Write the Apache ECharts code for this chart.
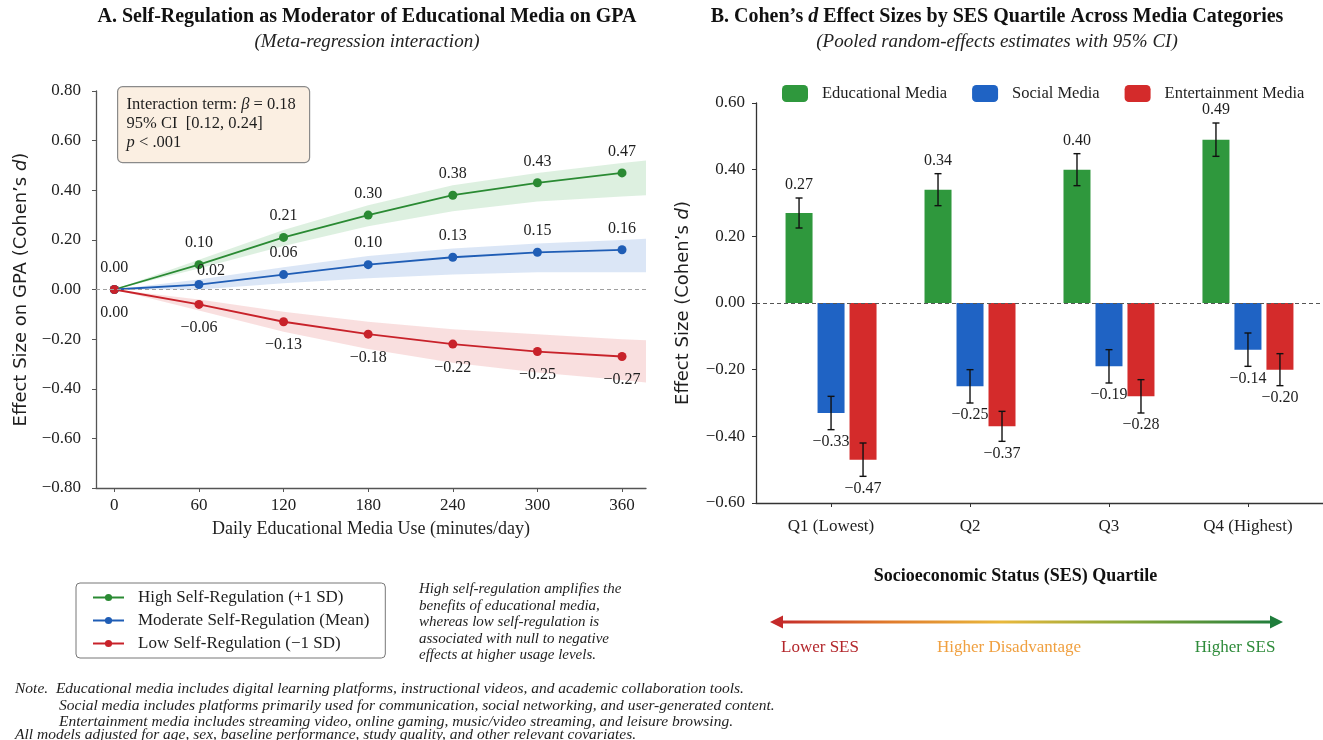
<!DOCTYPE html>
<html>
<head>
<meta charset="utf-8">
<script src="https://cdn.jsdelivr.net/npm/echarts@6/dist/echarts.min.js"></script>
<style>
  html, body { margin: 0; padding: 0; background: #fff; }
  #chart { width: 1323px; height: 740px; }
</style>
</head>
<body>
<div id="chart"></div>
<script>
// ---------- Panel A: self-regulation x educational media use ----------
const minutes = [0, 60, 120, 180, 240, 300, 360];
const minuteTicks = [0, 60, 120, 180, 240, 300, 360];
const highSR = [0.00, 0.10, 0.21, 0.30, 0.38, 0.43, 0.47];
const meanSR = [0.00, 0.02, 0.06, 0.10, 0.13, 0.15, 0.16];
const lowSR  = [0.00, -0.06, -0.13, -0.18, -0.22, -0.25, -0.27];

// confidence bands (lower / upper), evaluated out to the axis edge
const bandMinutes = [0, 60, 120, 180, 240, 300, 360, 377];
const highLo = [0.00, 0.085, 0.175, 0.255, 0.315, 0.355, 0.375, 0.38];
const highHi = [0.00, 0.120, 0.240, 0.340, 0.420, 0.470, 0.510, 0.52];
const meanLo = [0.00, 0.000, 0.025, 0.045, 0.060, 0.070, 0.070, 0.07];
const meanHi = [0.00, 0.040, 0.090, 0.135, 0.165, 0.185, 0.200, 0.205];
const lowLo  = [0.00, -0.085, -0.170, -0.240, -0.295, -0.335, -0.365, -0.375];
const lowHi  = [0.00, -0.040, -0.090, -0.130, -0.160, -0.180, -0.200, -0.205];

// ---------- Panel B: Cohen's d by SES quartile ----------
const quartiles = ['Q1 (Lowest)', 'Q2', 'Q3', 'Q4 (Highest)'];
const quartilePos = [0, 1, 2, 3];
const eduD = [0.27, 0.34, 0.40, 0.49];
const socD = [-0.33, -0.25, -0.19, -0.14];
const entD = [-0.47, -0.37, -0.28, -0.20];
const eduCI = [0.045, 0.048, 0.048, 0.050];
const socCI = [0.050, 0.050, 0.050, 0.050];
const entCI = [0.050, 0.045, 0.050, 0.048];

const SERIF = "'Liberation Serif', 'DejaVu Serif', serif";
const SANS = "'DejaVu Sans', 'Noto Sans', sans-serif";
const GREEN = '#2f983d', BLUE = '#1f63c4', RED = '#d42b2b';
const LINE_GREEN = '#2a8a33', LINE_BLUE = '#1f5db5', LINE_RED = '#c8222a';
const INK = '#1e1e1e';

const fmt = v => (v < 0 ? '\u2212' : '') + Math.abs(v).toFixed(2);

const chart = echarts.init(document.getElementById('chart'), null, { renderer: 'canvas' });

function bandSeries(lo, hi, fill) {
  return {
    type: 'custom', xAxisIndex: 0, yAxisIndex: 0, silent: true, z: 1,
    data: bandMinutes.map((m, i) => [m, lo[i], hi[i]]),
    encode: { x: 0, y: [1, 2] },
    renderItem: (params, api) => {
      if (params.dataIndex !== 0) return null;
      const pts = [];
      for (let i = 0; i < bandMinutes.length; i++) pts.push(api.coord([bandMinutes[i], hi[i]]));
      for (let i = bandMinutes.length - 1; i >= 0; i--) pts.push(api.coord([bandMinutes[i], lo[i]]));
      return { type: 'polygon', shape: { points: pts }, style: { fill: fill } };
    }
  };
}

function lineSeries(name, values, color, pos, dist, extra) {
  return {
    name: name, type: 'line', xAxisIndex: 0, yAxisIndex: 0, z: 3,
    data: values.map((v, i) => {
      const item = { value: [minutes[i], v] };
      if (extra && extra[i]) item.label = extra[i];
      return item;
    }),
    symbol: 'circle', symbolSize: 9,
    itemStyle: { color: color },
    lineStyle: { color: color, width: 1.8 },
    label: {
      show: true, position: pos, distance: dist,
      formatter: p => fmt(p.value[1]),
      fontFamily: SERIF, fontSize: 16, color: INK
    },
    emphasis: { disabled: true }
  };
}

// bars sit on a numeric quartile axis; width and spacing in pixels
const BAR_W = 27, BAR_GAP = 0.185;
function errorSeries(values, cis, k) {
  return {
    type: 'custom', xAxisIndex: 1, yAxisIndex: 1, z: 5, silent: true,
    data: values.map((v, i) => [quartilePos[i], v, cis[i]]),
    encode: { x: 0, y: 1 },
    renderItem: (params, api) => {
      const q = api.value(0), v = api.value(1), ci = api.value(2);
      const off = k * BAR_W * (1 + BAR_GAP);
      const t = api.coord([q, v + ci]);
      const b = api.coord([q, v - ci]);
      const x = t[0] + off;
      const cap = 3.5;
      const ls = { stroke: '#111', lineWidth: 1.4 };
      const label = v >= 0
        ? { x: x, y: t[1] - 5, verticalAlign: 'bottom' }
        : { x: x, y: b[1] + 4, verticalAlign: 'top' };
      return {
        type: 'group',
        children: [
          { type: 'line', shape: { x1: x, y1: t[1], x2: x, y2: b[1] }, style: ls },
          { type: 'line', shape: { x1: x - cap, y1: t[1], x2: x + cap, y2: t[1] }, style: ls },
          { type: 'line', shape: { x1: x - cap, y1: b[1], x2: x + cap, y2: b[1] }, style: ls },
          { type: 'text', style: Object.assign({
              text: fmt(v), align: 'center', fill: INK,
              font: '16px ' + SERIF }, label) }
        ]
      };
    }
  };
}

function barSeries(name, values, color) {
  return {
    name: name, type: 'bar', xAxisIndex: 1, yAxisIndex: 1, z: 2,
    data: values.map((v, i) => [quartilePos[i], v]),
    barWidth: BAR_W, barGap: (BAR_GAP * 100) + '%',
    itemStyle: { color: color },
    emphasis: { disabled: true }
  };
}

const axisLineA = { onZero: false, lineStyle: { color: '#555', width: 1.3 } };
const axisTickA = { inside: false, length: 4, lineStyle: { color: '#555', width: 1 } };
const axisLineB = { onZero: false, lineStyle: { color: '#333', width: 1.3 } };
const axisTickB = { inside: false, length: 4, lineStyle: { color: '#333', width: 1 } };

const titleStyle = { fontFamily: SERIF, fontSize: 20, fontWeight: 'bold', color: '#111' };
const subStyle = { fontFamily: SERIF, fontSize: 19, fontStyle: 'italic', color: '#222' };

const option = {
  animation: false,
  backgroundColor: '#fff',
  textStyle: { fontFamily: SERIF },
  title: [
    {
      text: 'A. Self-Regulation as Moderator of Educational Media on GPA',
      subtext: '(Meta-regression interaction)',
      left: 362, top: 2, textAlign: 'center', itemGap: 5,
      textStyle: titleStyle, subtextStyle: subStyle
    },
    {
      text: '{b|B. Cohen\u2019s }{bi|d}{b| Effect Sizes by SES Quartile Across Media Categories}',
      subtext: '(Pooled random-effects estimates with 95% CI)',
      left: 992, top: 2, textAlign: 'center', itemGap: 5,
      textStyle: Object.assign({
        rich: {
          b: titleStyle,
          bi: Object.assign({}, titleStyle, { fontStyle: 'italic' })
        }
      }, titleStyle),
      subtextStyle: subStyle
    }
  ],
  legend: [
    {
      data: ['High Self-Regulation (+1 SD)', 'Moderate Self-Regulation (Mean)', 'Low Self-Regulation (\u22121 SD)'],
      orient: 'vertical', left: 76, top: 583,
      itemWidth: 31, itemHeight: 9, itemGap: 6,
      padding: [6, 16, 6, 16],
      borderColor: '#777', borderWidth: 1, borderRadius: 4, backgroundColor: '#fff',
      textStyle: { fontFamily: SERIF, fontSize: 17, color: INK, padding: [0, 0, 0, 9] },
      selectedMode: false
    },
    {
      data: ['Educational Media', 'Social Media', 'Entertainment Media'],
      orient: 'horizontal', left: 777, top: 80,
      itemWidth: 26, itemHeight: 17, itemGap: 25,
      textStyle: { fontFamily: SERIF, fontSize: 16.5, color: INK, padding: [0, 0, 0, 9] },
      selectedMode: false
    }
  ],
  grid: [
    { left: 96, right: 677, top: 91, bottom: 252 },
    { left: 756, right: -5, top: 103, bottom: 237 }
  ],
  xAxis: [
    {
      type: 'value', gridIndex: 0, min: -13, max: 377,
      name: 'Daily Educational Media Use (minutes/day)', nameLocation: 'middle', nameGap: 32,
      nameTextStyle: { fontFamily: SERIF, fontSize: 18, color: INK },
      axisLine: axisLineA,
      axisTick: Object.assign({ customValues: minuteTicks }, axisTickA),
      axisLabel: { customValues: minuteTicks, fontFamily: SERIF, fontSize: 17, color: INK, margin: 9 },
      splitLine: { show: false }
    },
    {
      type: 'value', gridIndex: 1, min: -0.54, max: 3.54,
      name: 'Socioeconomic Status (SES) Quartile', nameLocation: 'middle', nameGap: 64,
      nameTextStyle: { fontFamily: SERIF, fontSize: 18, fontWeight: 'bold', color: '#111', padding: [0, 48, 0, 0] },
      axisLine: axisLineB,
      axisTick: Object.assign({ customValues: quartilePos }, axisTickB),
      axisLabel: {
        customValues: quartilePos, formatter: v => quartiles[Math.round(v)],
        fontFamily: SERIF, fontSize: 17, color: INK, margin: 15
      },
      splitLine: { show: false }
    }
  ],
  yAxis: [
    {
      type: 'value', gridIndex: 0, min: -0.8, max: 0.8, interval: 0.2,
      name: 'Effect Size on GPA (Cohen\u2019s {i|d})', nameLocation: 'middle', nameGap: 66,
      nameTextStyle: {
        fontFamily: SANS, fontSize: 18, color: INK,
        rich: { i: { fontFamily: SANS, fontSize: 18, fontStyle: 'italic', color: INK } }
      },
      axisLine: Object.assign({ show: true }, axisLineA),
      axisTick: Object.assign({ show: true }, axisTickA),
      axisLabel: { formatter: fmt, fontFamily: SERIF, fontSize: 17, color: INK, margin: 15 },
      splitLine: { show: false }
    },
    {
      type: 'value', gridIndex: 1, min: -0.6, max: 0.6, interval: 0.2,
      name: 'Effect Size (Cohen\u2019s {i|d})', nameLocation: 'middle', nameGap: 64,
      nameTextStyle: {
        fontFamily: SANS, fontSize: 18, color: INK,
        rich: { i: { fontFamily: SANS, fontSize: 18, fontStyle: 'italic', color: INK } }
      },
      axisLine: Object.assign({ show: true }, axisLineB),
      axisTick: Object.assign({ show: true }, axisTickB),
      axisLabel: { formatter: fmt, fontFamily: SERIF, fontSize: 17, color: INK, margin: 11 },
      splitLine: { show: false }
    }
  ],
  series: [
    bandSeries(highLo, highHi, 'rgba(46,160,60,0.16)'),
    bandSeries(meanLo, meanHi, 'rgba(31,100,200,0.16)'),
    bandSeries(lowLo, lowHi, 'rgba(214,40,40,0.15)'),
    Object.assign(lineSeries('High Self-Regulation (+1 SD)', highSR, LINE_GREEN, 'top', 9), {
      markLine: {
        silent: true, symbol: ['none', 'none'], label: { show: false },
        lineStyle: { type: [4, 3], color: '#a0a0a0', width: 1.2 },
        data: [{ yAxis: 0 }]
      }
    }),
    lineSeries('Moderate Self-Regulation (Mean)', meanSR, LINE_BLUE, 'top', 9,
      { 0: { show: false }, 1: { offset: [12, 8] } }),
    lineSeries('Low Self-Regulation (\u22121 SD)', lowSR, LINE_RED, 'bottom', 11),

    Object.assign(barSeries('Educational Media', eduD, GREEN), {
      markLine: {
        silent: true, symbol: ['none', 'none'], label: { show: false },
        lineStyle: { type: [4, 3], color: '#555', width: 1.2 },
        data: [{ yAxis: 0 }]
      }
    }),
    barSeries('Social Media', socD, BLUE),
    barSeries('Entertainment Media', entD, RED),
    errorSeries(eduD, eduCI, -1),
    errorSeries(socD, socCI, 0),
    errorSeries(entD, entCI, 1)
  ],
  graphic: [
    // interaction annotation box
    {
      type: 'group', left: 117, top: 86,
      children: [
        { type: 'rect', shape: { x: 0, y: 0, width: 192, height: 76, r: 5 },
          style: { fill: '#fbefe2', stroke: '#8a8a8a', lineWidth: 1.2 } },
        { type: 'text', x: 9, y: 9, style: {
            text: '{a|Interaction term: }{i|\u03b2}{a| = 0.18}\n{a|95% CI  [0.12, 0.24]}\n{i|p}{a| < .001}',
            rich: {
              a: { fontFamily: SERIF, fontSize: 16.5, fill: INK, lineHeight: 19 },
              i: { fontFamily: SERIF, fontSize: 16.5, fontStyle: 'italic', fill: INK, lineHeight: 19 }
            } } }
      ]
    },
    // interpretation note beside the legend
    {
      type: 'text', left: 419, top: 581,
      style: {
        text: 'High self-regulation amplifies the\nbenefits of educational media,\nwhereas low self-regulation is\nassociated with null to negative\neffects at higher usage levels.',
        font: 'italic 15px ' + SERIF, fill: INK, lineHeight: 16.5
      }
    },
    // footnotes
    {
      type: 'text', left: 15, top: 681,
      style: {
        text: 'Note.  Educational media includes digital learning platforms, instructional videos, and academic collaboration tools.',
        font: 'italic 15.5px ' + SERIF, fill: INK
      }
    },
    {
      type: 'text', left: 59, top: 698,
      style: {
        text: 'Social media includes platforms primarily used for communication, social networking, and user-generated content.',
        font: 'italic 15.5px ' + SERIF, fill: INK
      }
    },
    {
      type: 'text', left: 59, top: 714,
      style: {
        text: 'Entertainment media includes streaming video, online gaming, music/video streaming, and leisure browsing.',
        font: 'italic 15.5px ' + SERIF, fill: INK
      }
    },
    {
      type: 'text', left: 15, top: 727,
      style: {
        text: 'All models adjusted for age, sex, baseline performance, study quality, and other relevant covariates.',
        font: 'italic 15.5px ' + SERIF, fill: INK
      }
    },
    // SES gradient arrow
    {
      type: 'line', shape: { x1: 780, y1: 622, x2: 1273, y2: 622 },
      style: {
        lineWidth: 3,
        stroke: new echarts.graphic.LinearGradient(0, 0, 1, 0, [
          { offset: 0, color: '#c42a2a' },
          { offset: 0.22, color: '#e07a2c' },
          { offset: 0.45, color: '#e9b83c' },
          { offset: 0.7, color: '#8aa83a' },
          { offset: 1, color: '#1f7d3c' }
        ])
      }
    },
    { type: 'polygon', shape: { points: [[770, 622], [783, 615.5], [783, 628.5]] }, style: { fill: '#c42a2a' } },
    { type: 'polygon', shape: { points: [[1283, 622], [1270, 615.5], [1270, 628.5]] }, style: { fill: '#1f7d3c' } },
    { type: 'text', x: 820, y: 648, style: { text: 'Lower SES', font: '17px ' + SERIF, fill: '#b3262b', align: 'center', verticalAlign: 'middle' } },
    { type: 'text', x: 1009, y: 648, style: { text: 'Higher Disadvantage', font: '17px ' + SERIF, fill: '#f0a040', align: 'center', verticalAlign: 'middle' } },
    { type: 'text', x: 1235, y: 648, style: { text: 'Higher SES', font: '17px ' + SERIF, fill: '#2e8b3a', align: 'center', verticalAlign: 'middle' } }
  ]
};

chart.setOption(option);
</script>
</body>
</html>
